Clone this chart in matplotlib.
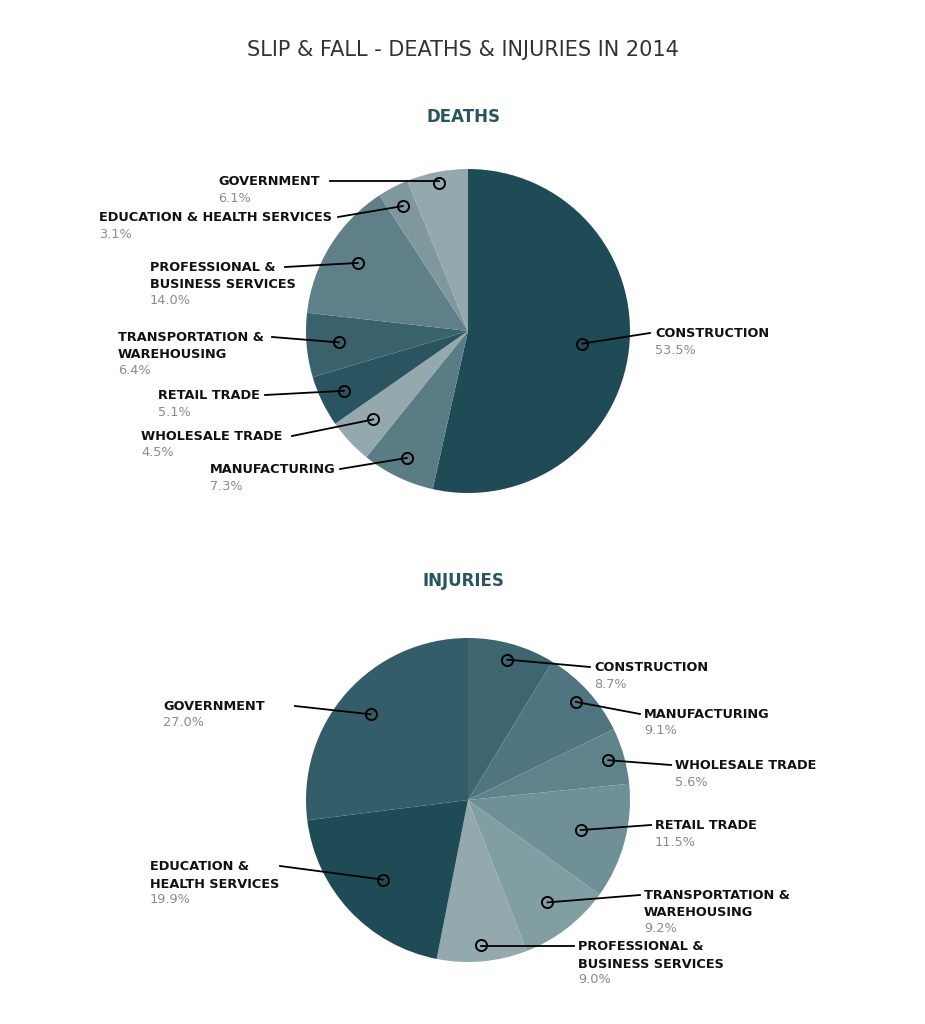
import matplotlib
matplotlib.use("Agg")
import matplotlib.pyplot as plt
import numpy as np

H = 1024
death_labels = ["CONSTRUCTION", "MANUFACTURING", "WHOLESALE TRADE", "RETAIL TRADE",
                "TRANSPORTATION &\nWAREHOUSING", "PROFESSIONAL &\nBUSINESS SERVICES",
                "EDUCATION & HEALTH SERVICES", "GOVERNMENT"]
death_vals = [53.5, 7.3, 4.5, 5.1, 6.4, 14.0, 3.1, 6.1]
death_colors = ["#1f4b57", "#5a7c84", "#93a9ad", "#2a5560", "#3a626c", "#5f8088", "#7f989e", "#93a9ad"]
# label placement: text x, text y(px), line start x, marker radius fraction
death_pos = [(655, 333, 650, 0.71), (210, 469, 340, 0.87), (141, 436, 292, 0.8), (158, 395, 265, 0.85),
             (118, 337, 272, 0.8), (150, 267, 285, 0.8), (99, 217, 338, 0.87), (218, 181, 330, 0.93)]

inj_labels = ["CONSTRUCTION", "MANUFACTURING", "WHOLESALE TRADE", "RETAIL TRADE",
              "TRANSPORTATION &\nWAREHOUSING", "PROFESSIONAL &\nBUSINESS SERVICES",
              "EDUCATION &\nHEALTH SERVICES", "GOVERNMENT"]
inj_vals = [8.7, 9.1, 5.6, 11.5, 9.2, 9.0, 19.9, 27.0]
inj_colors = ["#3d6670", "#4f7680", "#5f838b", "#6f9096", "#819ea3", "#93a9ad", "#1f4b57", "#335d68"]
inj_pos = [(594, 667, 590, 0.9), (644, 714, 640, 0.9), (675, 765, 671, 0.9), (655, 825, 651, 0.72),
           (644, 895, 640, 0.8), (578, 946, 574, 0.9), (150, 866, 280, 0.72), (163, 706, 295, 0.8)]

fig = plt.figure(figsize=(9.25, 10.24), dpi=100)
ax = fig.add_axes([0, 0, 1, 1])
ax.set_xlim(0, 925); ax.set_ylim(0, H); ax.set_aspect("equal"); ax.axis("off")

fig.text(0.5, 1 - 50 / H, "SLIP & FALL - DEATHS & INJURIES IN 2014", ha="center", va="center",
         fontsize=15, color="#333333", family="DejaVu Sans")

def draw(vals, colors, labels, pos, cy, title, ty):
    cx, R = 468, 162
    ax.pie(vals, colors=colors, startangle=90, counterclock=False, center=(cx, H - cy), radius=R,
           wedgeprops=dict(linewidth=0))
    ax.text(cx - 5, H - ty, title, ha="center", va="center", fontsize=12, fontweight="bold", color="#2a5560")
    cum = np.cumsum([0] + vals)
    tot = sum(vals)
    for i, (lab, v) in enumerate(zip(labels, vals)):
        mid = 90 - 360 * (cum[i] + v / 2) / tot
        tx, tyy, lx, rf = pos[i]
        mx = cx + rf * R * np.cos(np.radians(mid))
        my = H - cy + rf * R * np.sin(np.radians(mid))
        ly = H - tyy
        ax.plot([lx, mx], [ly, ly if abs(ly - my) < 3 else my], color="black", lw=1.3, zorder=3)
        ax.plot(mx, my, "o", ms=8, mfc="none", mec="black", mew=1.4, zorder=4)
        ax.text(tx, ly, lab, ha="left", va="top" if "\n" in lab else "center", fontsize=9.5,
                fontweight="bold", color="#111111", linespacing=1.4,
                transform=ax.transData) if False else None
        nl = lab.count("\n")
        ax.text(tx, ly + 6, lab, ha="left", va="top", fontsize=9.3, fontweight="bold",
                color="#111111", linespacing=1.45)
        ax.text(tx, ly + 6 - 16.5 * (nl + 1), f"{v:.1f}%", ha="left", va="top", fontsize=9.3,
                color="#8a8a8a")

draw(death_vals, death_colors, death_labels, death_pos, 331, "DEATHS", 117)
draw(inj_vals, inj_colors, inj_labels, inj_pos, 800, "INJURIES", 581)
ax.set_xlim(0, 925); ax.set_ylim(0, H)
fig.savefig("out.png", dpi=100, facecolor="white")
